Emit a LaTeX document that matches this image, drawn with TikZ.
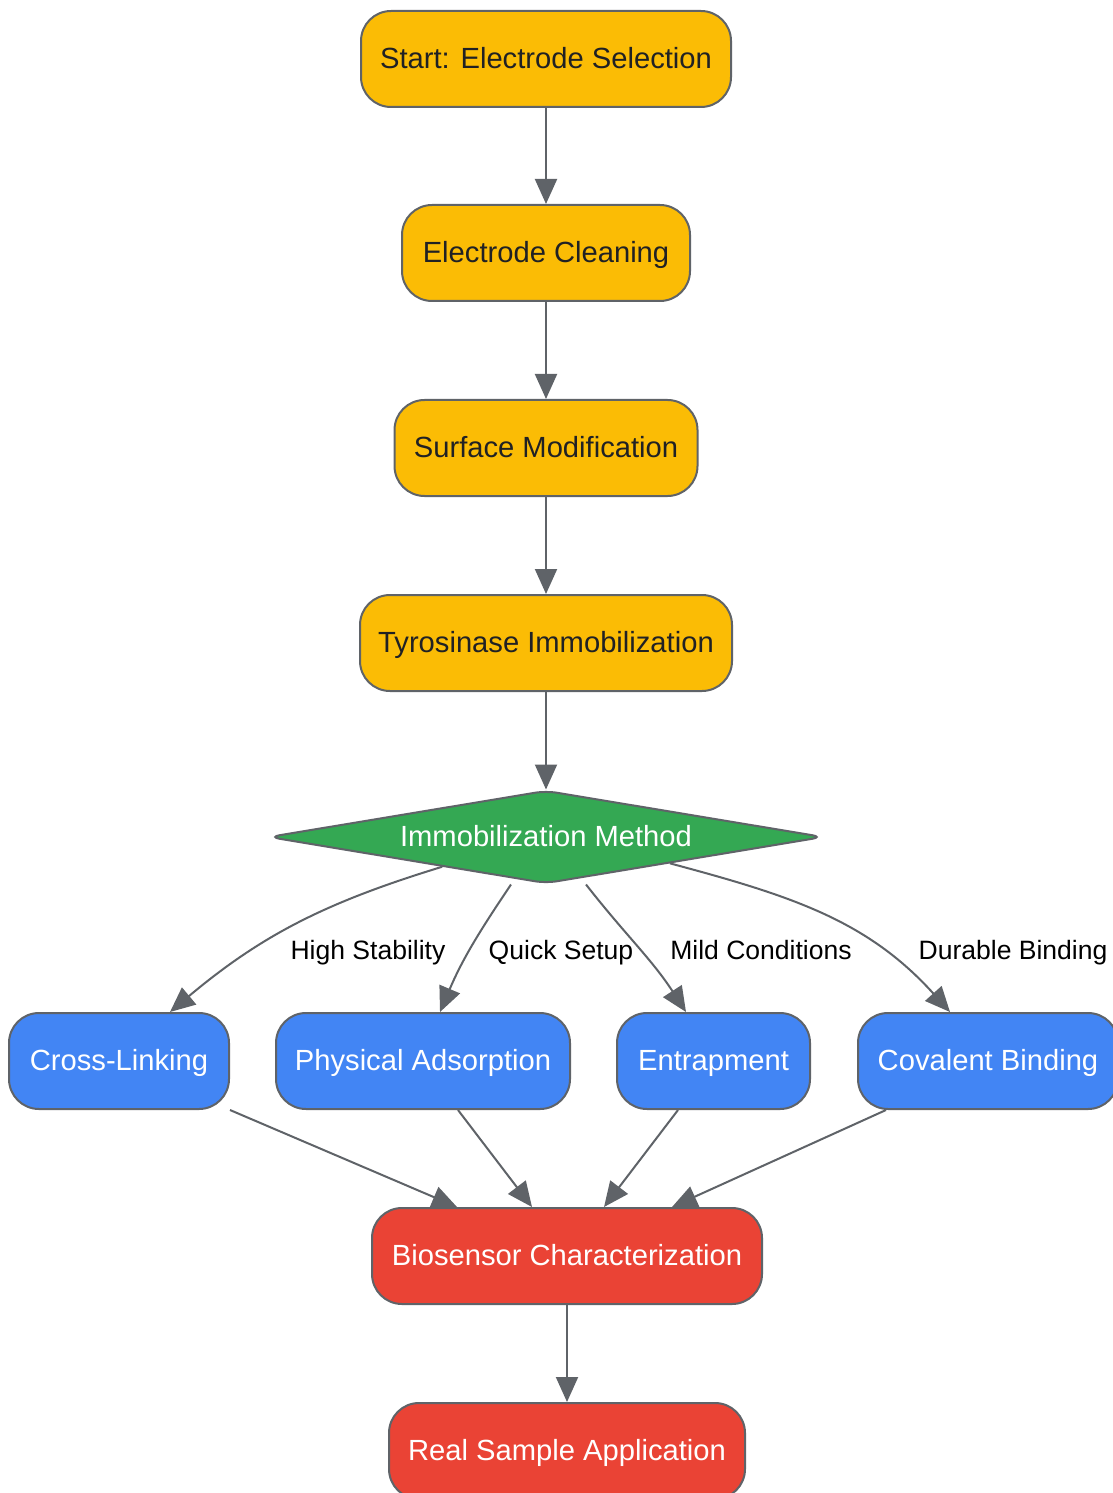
\documentclass[tikz,border=0pt]{standalone}
\usepackage{fontspec}
\setmainfont{Liberation Sans}
\usetikzlibrary{arrows.meta,shapes.geometric}
\definecolor{gyellow}{HTML}{FBBC05}
\definecolor{gblue}{HTML}{4285F4}
\definecolor{ggreen}{HTML}{34A853}
\definecolor{gred}{HTML}{EA4335}
\definecolor{gline}{HTML}{5F6368}
\definecolor{gtext}{HTML}{202124}
\tikzset{
	box/.style={draw=gline, line width=0.04cm, rounded corners=0.6cm, minimum height=1.92cm, inner sep=0pt, text height=0.5cm, text depth=0.12cm, font=\fontsize{16.6}{20}\selectfont},
	prepbox/.style={box, fill=gyellow, text=gtext},
	methodbox/.style={box, fill=gblue, text=white},
	resultbox/.style={box, fill=gred, text=white},
	choice/.style={diamond, draw=gline, line width=0.04cm, fill=ggreen, text=white, rounded corners=0.22cm, minimum width=11.1cm, minimum height=1.86cm, aspect=6, inner sep=0pt, text height=0.5cm, text depth=0.12cm, font=\fontsize{16.6}{20}\selectfont},
	elabel/.style={text=black, text height=0.5cm, text depth=0.12cm, font=\fontsize{15.1}{18}\selectfont},
	flow/.style={draw=gline, line width=0.04cm, -{Triangle[length=0.5cm,width=0.44cm]}}
}

\begin{document}
\begin{tikzpicture}
		%%%%% START %%%%%
		\useasboundingbox (0, 0) rectangle (22.24, -29.86);
		
		\node[prepbox, minimum width=7.4cm] (start) at (10.92, -1.18) {Start: Electrode Selection};
		\node[prepbox, minimum width=5.76cm] (clean) at (10.92, -5.06) {Electrode Cleaning};
		\node[prepbox, minimum width=6.06cm] (surf) at (10.92, -8.96) {Surface Modification};
		\node[prepbox, minimum width=7.44cm] (tyro) at (10.92, -12.86) {Tyrosinase Immobilization};
		
		\node[choice] (method) at (10.92, -16.74) {Immobilization Method};
		
		\node[methodbox, minimum width=4.4cm] (cross) at (2.38, -21.22) {Cross-Linking};
		\node[methodbox, minimum width=5.88cm] (phys) at (8.46, -21.22) {Physical Adsorption};
		\node[methodbox, minimum width=3.86cm] (entr) at (14.27, -21.22) {Entrapment};
		\node[methodbox, minimum width=5.2cm] (coval) at (19.76, -21.22) {Covalent Binding};
		
		\node[resultbox, minimum width=7.8cm] (bio) at (11.34, -25.12) {Biosensor Characterization};
		\node[resultbox, minimum width=7.12cm] (real) at (11.34, -29.02) {Real Sample Application};
		
		% preparation chain
		\draw[flow] (start) -- (clean);
		\draw[flow] (clean) -- (surf);
		\draw[flow] (surf) -- (tyro);
		\draw[flow] (tyro) -- (method);
		
		% choice of method
		\draw[flow] (method.196) to[out=197, in=40] ([xshift=1.02cm]cross.north);
		\draw[flow] ([xshift=-0.7cm]method.south) to[out=236, in=67] ([xshift=0.34cm]phys.north);
		\draw[flow] ([xshift=0.8cm]method.south) to[out=308, in=123] ([xshift=-0.55cm]entr.north);
		\draw[flow] (method.348) to[out=345, in=132] ([xshift=-0.76cm]coval.north);
		
		\node[elabel] (lhigh) at (7.36, -19.0) {High Stability};
		\node[elabel] (lquick) at (11.22, -19.0) {Quick Setup};
		\node[elabel] (lmild) at (15.22, -19.0) {Mild Conditions};
		\node[elabel] (ldur) at (20.26, -19.0) {Durable Binding};
		
		% to characterization
		\draw[flow] (cross.south east) -- ([xshift=-2.2cm]bio.north);
		\draw[flow] ([xshift=0.7cm]phys.south) -- ([xshift=-0.7cm]bio.north);
		\draw[flow] ([xshift=-0.71cm]entr.south) -- ([xshift=0.74cm]bio.north);
		\draw[flow] ([xshift=-2.04cm]coval.south) -- ([xshift=2.1cm]bio.north);
		
		\draw[flow] (bio) -- (real);
		
		%%%%% END %%%%%
	\end{tikzpicture}
\end{document}
